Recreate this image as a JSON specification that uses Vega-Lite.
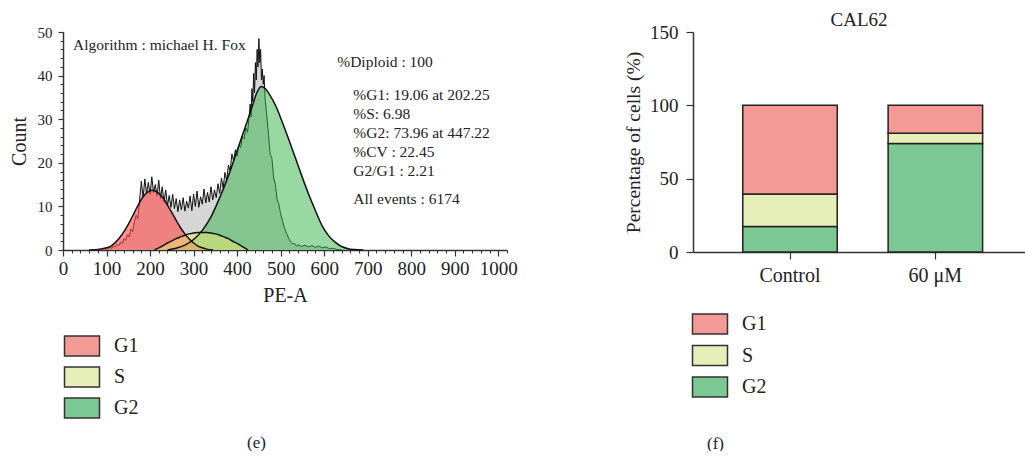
{
  "$schema": "https://vega.github.io/schema/vega-lite/v6.json",
  "padding": {"left": 9, "top": 11, "right": 0, "bottom": 0},
  "bounds": "flush",
  "spacing": 186,
  "background": "white",
  "resolve": {"scale": {"color": "independent"}, "legend": {"color": "independent"}},
  "datasets": {
    "hist": [
      {"pe":96,"count":0},{"pe":100,"count":0.3},{"pe":104,"count":0.2},{"pe":108,"count":0.6},{"pe":112,"count":0.4},{"pe":116,"count":0.9},{"pe":120,"count":0.7},{"pe":124,"count":1.3},{"pe":128,"count":1.0},{"pe":132,"count":1.8},{"pe":136,"count":1.5},{"pe":140,"count":2.6},{"pe":144,"count":2.2},{"pe":148,"count":3.5},{"pe":152,"count":3.0},{"pe":156,"count":4.8},{"pe":160,"count":4.2},{"pe":164,"count":6.5},{"pe":168,"count":8.0},{"pe":172,"count":7.2},{"pe":176,"count":11.5},{"pe":180,"count":15.8},{"pe":184,"count":12.0},{"pe":188,"count":16.3},{"pe":192,"count":13.0},{"pe":196,"count":15.5},{"pe":200,"count":12.8},{"pe":204,"count":16.8},{"pe":208,"count":13.2},{"pe":212,"count":15.0},{"pe":216,"count":12.5},{"pe":220,"count":16.0},{"pe":224,"count":11.8},{"pe":228,"count":14.5},{"pe":232,"count":11.0},{"pe":236,"count":13.8},{"pe":240,"count":10.2},{"pe":244,"count":12.5},{"pe":248,"count":9.8},{"pe":252,"count":12.8},{"pe":256,"count":9.5},{"pe":260,"count":11.8},{"pe":264,"count":8.8},{"pe":268,"count":11.5},{"pe":272,"count":9.2},{"pe":276,"count":12.0},{"pe":280,"count":8.9},{"pe":284,"count":11.2},{"pe":288,"count":9.6},{"pe":292,"count":12.4},{"pe":296,"count":9.0},{"pe":300,"count":12.8},{"pe":304,"count":10.0},{"pe":308,"count":13.5},{"pe":312,"count":9.8},{"pe":316,"count":12.2},{"pe":320,"count":10.5},{"pe":324,"count":14.0},{"pe":328,"count":10.8},{"pe":332,"count":13.2},{"pe":336,"count":11.0},{"pe":340,"count":14.5},{"pe":344,"count":11.5},{"pe":348,"count":13.8},{"pe":352,"count":12.0},{"pe":356,"count":15.2},{"pe":360,"count":13.0},{"pe":364,"count":16.5},{"pe":368,"count":14.2},{"pe":372,"count":17.8},{"pe":376,"count":16.0},{"pe":380,"count":19.5},{"pe":384,"count":18.2},{"pe":388,"count":22.0},{"pe":392,"count":20.5},{"pe":396,"count":23.0},{"pe":400,"count":21.5},{"pe":404,"count":24.0},{"pe":408,"count":23.5},{"pe":412,"count":26.0},{"pe":416,"count":25.5},{"pe":420,"count":28.0},{"pe":424,"count":27.0},{"pe":428,"count":31.0},{"pe":430,"count":33.5},{"pe":432,"count":30.5},{"pe":434,"count":37.0},{"pe":436,"count":34.0},{"pe":438,"count":40.5},{"pe":440,"count":36.0},{"pe":442,"count":43.0},{"pe":444,"count":39.0},{"pe":446,"count":46.0},{"pe":448,"count":42.0},{"pe":450,"count":48.5},{"pe":452,"count":43.0},{"pe":454,"count":46.0},{"pe":456,"count":39.0},{"pe":458,"count":41.5},{"pe":460,"count":38.0},{"pe":462,"count":40.0},{"pe":464,"count":35.0},{"pe":468,"count":31.0},{"pe":472,"count":26.5},{"pe":476,"count":22.0},{"pe":480,"count":21.0},{"pe":484,"count":16.5},{"pe":488,"count":15.0},{"pe":492,"count":11.5},{"pe":496,"count":10.5},{"pe":500,"count":8.2},{"pe":504,"count":6.8},{"pe":508,"count":5.3},{"pe":512,"count":4.2},{"pe":516,"count":3.2},{"pe":520,"count":2.4},{"pe":524,"count":1.8},{"pe":528,"count":1.4},{"pe":532,"count":1.5},{"pe":536,"count":0.9},{"pe":540,"count":1.2},{"pe":548,"count":0.8},{"pe":556,"count":1.1},{"pe":564,"count":0.7},{"pe":572,"count":1.0},{"pe":580,"count":0.6},{"pe":588,"count":0.9},{"pe":596,"count":0.5},{"pe":604,"count":0.7},{"pe":612,"count":0.3},{"pe":620,"count":0.4},{"pe":630,"count":0.1},{"pe":640,"count":0}
    ],
    "fits": [
      {"phase":"G2","pe":240,"count":0},{"phase":"G2","pe":260,"count":0.4},{"phase":"G2","pe":280,"count":1.1},{"phase":"G2","pe":300,"count":2.4},{"phase":"G2","pe":320,"count":4.5},{"phase":"G2","pe":340,"count":7.6},{"phase":"G2","pe":360,"count":12.0},{"phase":"G2","pe":380,"count":17.0},{"phase":"G2","pe":400,"count":22.8},{"phase":"G2","pe":420,"count":28.6},{"phase":"G2","pe":435,"count":33.0},{"phase":"G2","pe":445,"count":36.0},{"phase":"G2","pe":455,"count":37.5},{"phase":"G2","pe":465,"count":37.0},{"phase":"G2","pe":475,"count":35.6},{"phase":"G2","pe":490,"count":32.8},{"phase":"G2","pe":505,"count":29.0},{"phase":"G2","pe":520,"count":25.0},{"phase":"G2","pe":535,"count":20.8},{"phase":"G2","pe":550,"count":16.6},{"phase":"G2","pe":565,"count":12.6},{"phase":"G2","pe":580,"count":9.0},{"phase":"G2","pe":595,"count":5.6},{"phase":"G2","pe":610,"count":3.3},{"phase":"G2","pe":625,"count":1.8},{"phase":"G2","pe":640,"count":0.8},{"phase":"G2","pe":655,"count":0.3},{"phase":"G2","pe":670,"count":0.1},{"phase":"G2","pe":690,"count":0},
      {"phase":"G1","pe":60,"count":0},{"phase":"G1","pe":80,"count":0.1},{"phase":"G1","pe":100,"count":0.5},{"phase":"G1","pe":110,"count":0.9},{"phase":"G1","pe":120,"count":1.7},{"phase":"G1","pe":130,"count":2.8},{"phase":"G1","pe":140,"count":4.2},{"phase":"G1","pe":150,"count":5.9},{"phase":"G1","pe":160,"count":7.8},{"phase":"G1","pe":170,"count":9.8},{"phase":"G1","pe":180,"count":11.6},{"phase":"G1","pe":190,"count":12.9},{"phase":"G1","pe":200,"count":13.6},{"phase":"G1","pe":205,"count":13.7},{"phase":"G1","pe":210,"count":13.6},{"phase":"G1","pe":220,"count":13.0},{"phase":"G1","pe":230,"count":11.9},{"phase":"G1","pe":240,"count":10.3},{"phase":"G1","pe":250,"count":8.6},{"phase":"G1","pe":260,"count":6.8},{"phase":"G1","pe":270,"count":5.1},{"phase":"G1","pe":280,"count":3.7},{"phase":"G1","pe":290,"count":2.5},{"phase":"G1","pe":300,"count":1.6},{"phase":"G1","pe":310,"count":0.9},{"phase":"G1","pe":320,"count":0.5},{"phase":"G1","pe":330,"count":0.2},{"phase":"G1","pe":345,"count":0},
      {"phase":"S","pe":210,"count":0},{"phase":"S","pe":220,"count":0.5},{"phase":"S","pe":230,"count":1.0},{"phase":"S","pe":240,"count":1.6},{"phase":"S","pe":250,"count":2.1},{"phase":"S","pe":260,"count":2.6},{"phase":"S","pe":270,"count":3.0},{"phase":"S","pe":280,"count":3.4},{"phase":"S","pe":290,"count":3.7},{"phase":"S","pe":300,"count":3.9},{"phase":"S","pe":310,"count":4.0},{"phase":"S","pe":320,"count":4.0},{"phase":"S","pe":330,"count":4.0},{"phase":"S","pe":340,"count":3.9},{"phase":"S","pe":350,"count":3.7},{"phase":"S","pe":360,"count":3.4},{"phase":"S","pe":370,"count":3.0},{"phase":"S","pe":380,"count":2.6},{"phase":"S","pe":390,"count":2.0},{"phase":"S","pe":400,"count":1.5},{"phase":"S","pe":410,"count":0.9},{"phase":"S","pe":420,"count":0.3},{"phase":"S","pe":425,"count":0}
    ],
    "notes": [
      {"note":"Algorithm : michael H. Fox","pe":23,"count":47.0},
      {"note":"%Diploid : 100","pe":630,"count":43.1},
      {"note":"%G1: 19.06 at 202.25","pe":667,"count":35.5},
      {"note":"%S: 6.98","pe":667,"count":31.2},
      {"note":"%G2: 73.96 at 447.22","pe":667,"count":26.8},
      {"note":"%CV : 22.45","pe":667,"count":22.5},
      {"note":"G2/G1 : 2.21","pe":667,"count":18.1},
      {"note":"All events : 6174","pe":667,"count":11.7}
    ],
    "bars": [
      {"group":"Control","phase":"G2","pct":17.4,"k":1},
      {"group":"Control","phase":"S","pct":22.2,"k":2},
      {"group":"Control","phase":"G1","pct":60.4,"k":3},
      {"group":"60 μM","phase":"G2","pct":73.96,"k":1},
      {"group":"60 μM","phase":"S","pct":6.98,"k":2},
      {"group":"60 μM","phase":"G1","pct":19.06,"k":3}
    ]
  },
  "hconcat": [
    {
      "width": 444,
      "height": 218,
      "layer": [
        {
          "data": {"name": "hist"},
          "mark": {"type": "area", "color": "#d6d6d6", "opacity": 1, "line": {"color": "#111", "strokeWidth": 1}},
          "encoding": {
            "x": {"field": "pe", "type": "quantitative", "scale": {"domain": [0, 1020], "nice": false, "zero": false},
              "axis": {"orient": "bottom", "tickCount": 51, "labels": false, "domain": false, "grid": false, "tickSize": 3, "tickWidth": 1,
                "title": "(e)", "titleFontSize": 17, "titleX": 193, "titleY": 192, "titleAlign": "center", "titleBaseline": "middle", "titleAngle": 0}},
            "y": {"field": "count", "type": "quantitative", "scale": {"domain": [0, 50], "nice": false},
              "axis": {"orient": "left", "tickCount": 25, "labels": false, "domain": false, "grid": false, "tickSize": 3, "tickWidth": 1, "title": null}}
          }
        },
        {
          "data": {"name": "fits"},
          "mark": {"type": "area", "interpolate": "monotone"},
          "encoding": {
            "x": {"field": "pe", "type": "quantitative",
              "axis": {"orient": "bottom", "values": [0,100,200,300,400,500,600,700,800,900,1000], "format": "d", "labelFlush": false, "labelOverlap": false,
                "title": "PE-A", "titleFontSize": 20, "titlePadding": 7, "labelFontSize": 19, "labelPadding": 3, "tickSize": 6, "tickWidth": 1.2, "domainWidth": 1.5}},
            "y": {"field": "count", "type": "quantitative", "stack": null,
              "axis": {"orient": "left", "values": [0,10,20,30,40,50], "title": "Count", "titleFontSize": 20, "titlePadding": 8,
                "labelFontSize": 15, "labelPadding": 6, "tickSize": 5, "tickWidth": 1.2, "domainWidth": 1.5}},
            "color": {"field": "phase", "type": "nominal",
              "scale": {"domain": ["G1", "S", "G2"], "range": ["rgba(255,71,71,0.6)", "rgba(235,235,110,0.5)", "rgba(50,178,70,0.5)"]},
              "legend": null}
          }
        },
        {
          "data": {"name": "fits"},
          "mark": {"type": "line", "interpolate": "monotone", "color": "#111", "strokeWidth": 1.5},
          "encoding": {
            "x": {"field": "pe", "type": "quantitative", "axis": null},
            "y": {"field": "count", "type": "quantitative", "axis": null},
            "detail": {"field": "phase"}
          }
        },
        {
          "data": {"name": "fits"},
          "mark": {"type": "point", "filled": true, "opacity": 0, "size": 1},
          "encoding": {
            "x": {"field": "pe", "type": "quantitative", "axis": null},
            "y": {"field": "count", "type": "quantitative", "axis": null},
            "color": {"field": "phase", "type": "nominal",
              "scale": {"domain": ["G1", "S", "G2"], "range": ["#f49a96", "#e6efb8", "#7cc894"]},
              "legend": {"orient": "none", "legendX": 8, "legendY": 303, "title": null, "padding": 0,
                "symbolType": "M-1.75,-1H1.75V1H-1.75Z", "symbolSize": 400, "rowPadding": 5,
                "symbolOpacity": 1, "symbolStrokeColor": "#333", "symbolStrokeWidth": 1.5,
                "labelFontSize": 20, "labelColor": "#222", "labelOffset": 21}}
          }
        },
        {
          "data": {"name": "notes"},
          "mark": {"type": "text", "align": "left", "baseline": "middle", "fontSize": 15.5, "color": "#222"},
          "encoding": {
            "x": {"field": "pe", "type": "quantitative", "axis": null},
            "y": {"field": "count", "type": "quantitative", "axis": null},
            "text": {"field": "note"}
          }
        }
      ],
      "resolve": {"axis": {"x": "independent", "y": "independent"}, "scale": {"color": "independent"}, "legend": {"color": "independent"}}
    },
    {
      "width": 332,
      "height": 220,
      "title": {"text": "CAL62", "fontSize": 19, "offset": -7},
      "data": {"name": "bars"},
      "mark": {"type": "bar", "stroke": "#222", "strokeWidth": 1.5},
      "encoding": {
        "x": {"field": "group", "type": "nominal", "sort": ["Control", "60 μM"],
          "scale": {"paddingInner": 0.35, "paddingOuter": 0.317, "align": 0.54},
          "axis": {"labelAngle": 0, "labelFontSize": 20, "labelPadding": 6, "tickSize": 7, "tickWidth": 1.2, "domainWidth": 1.5,
            "title": "(f)", "titleFontSize": 17, "titleX": 22, "titleY": 191, "titleAlign": "center", "titleBaseline": "middle"}},
        "y": {"field": "pct", "type": "quantitative", "stack": "zero", "scale": {"domain": [0, 150], "nice": false},
          "axis": {"values": [0, 50, 100, 150], "labelFontSize": 19, "labelPadding": 8, "tickSize": 7, "tickWidth": 1.2, "domainWidth": 1.5,
            "title": "Percentage of cells (%)", "titleFontSize": 19.5, "titlePadding": 6}},
        "color": {"field": "phase", "type": "nominal",
          "scale": {"domain": ["G1", "S", "G2"], "range": ["#f49a96", "#e6efb8", "#7cc894"]},
          "legend": {"orient": "none", "legendX": 6, "legendY": 281, "title": null, "padding": 0,
            "symbolType": "M-1.75,-1H1.75V1H-1.75Z", "symbolSize": 400, "rowPadding": 5.5,
            "symbolOpacity": 1, "symbolStrokeColor": "#333", "symbolStrokeWidth": 1.5,
            "labelFontSize": 20, "labelColor": "#222", "labelOffset": 21}},
        "order": {"field": "k", "type": "quantitative"}
      }
    }
  ],
  "config": {
    "font": "Liberation Serif",
    "view": {"stroke": null},
    "axis": {"labelColor": "#222", "titleColor": "#222", "titleFontWeight": "normal", "domainColor": "#333", "tickColor": "#333", "grid": false,
      "labelFont": "Liberation Serif", "titleFont": "Liberation Serif"},
    "legend": {"labelFont": "Liberation Serif"},
    "title": {"font": "Liberation Serif", "fontWeight": "normal", "color": "#222"},
    "text": {"font": "Liberation Serif"}
  }
}
